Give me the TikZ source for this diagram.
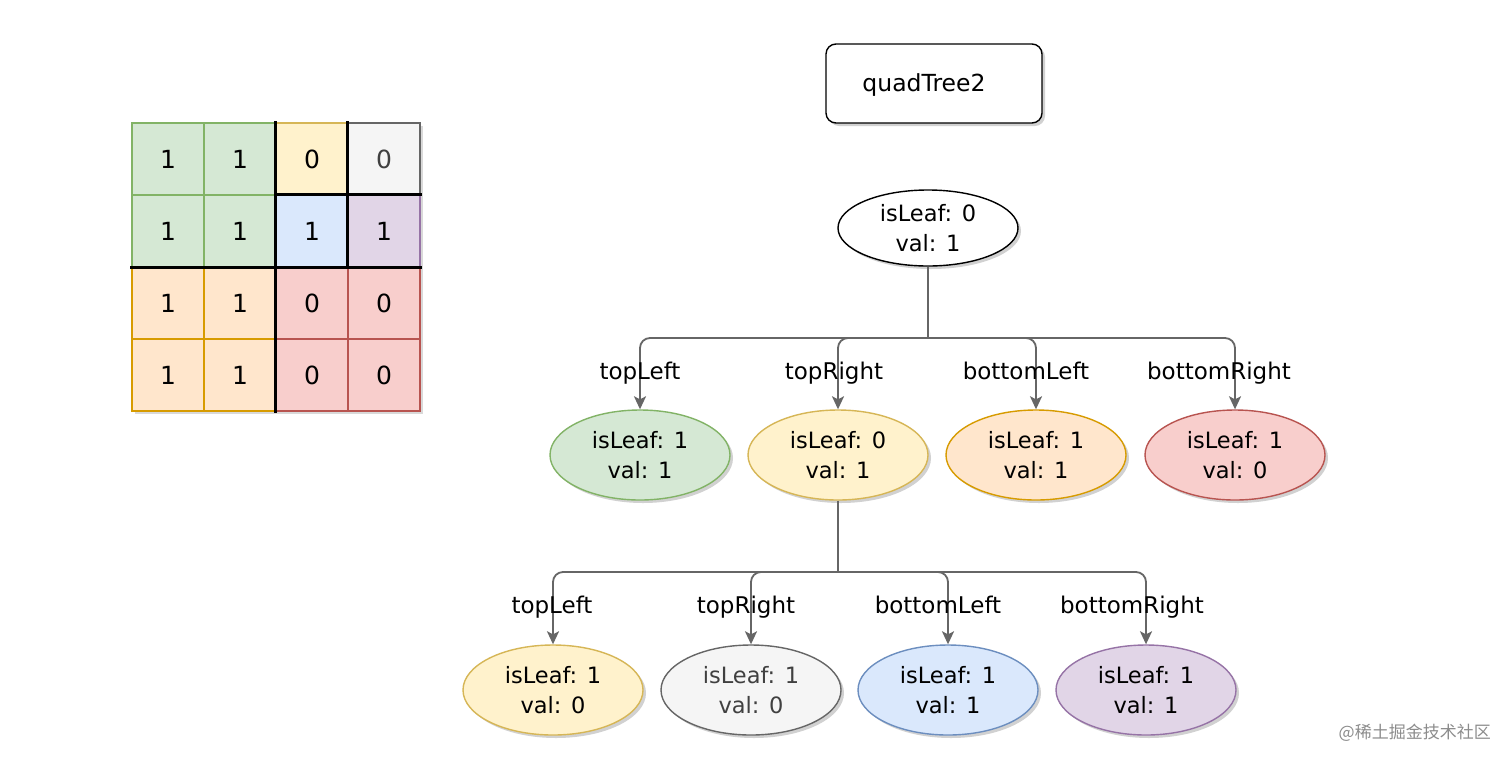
\documentclass[tikz,border=0pt]{standalone}
\usepackage{fontspec}
\setmainfont{DejaVu Sans}
\newfontfamily\cjk{Noto Sans CJK SC}
\usetikzlibrary{shapes.geometric,shadows,arrows.meta}
\definecolor{gF}{HTML}{D5E8D4}\definecolor{gS}{HTML}{82B366}
\definecolor{yF}{HTML}{FFF2CC}\definecolor{yS}{HTML}{D6B656}
\definecolor{wF}{HTML}{F5F5F5}\definecolor{wS}{HTML}{666666}
\definecolor{bF}{HTML}{DAE8FC}\definecolor{bS}{HTML}{6C8EBF}
\definecolor{pF}{HTML}{E1D5E7}\definecolor{pS}{HTML}{9673A6}
\definecolor{oF}{HTML}{FFE6CC}\definecolor{oS}{HTML}{D79B00}
\definecolor{rF}{HTML}{F8CECC}\definecolor{rS}{HTML}{B85450}
\definecolor{edgec}{HTML}{666666}
\tikzset{
  shad/.style={drop shadow={shadow xshift=3pt,shadow yshift=-3pt,opacity=0.18,fill=black}},
  cellbox/.style={draw=#1S,fill=#1F,line width=1.2pt,minimum width=72pt,minimum height=72pt,inner sep=0pt,font=\fontsize{25}{28}\selectfont},
  qnode/.style={ellipse,draw=#1S,fill=#1F,line width=1.4pt,minimum width=180pt,minimum height=90pt,inner sep=0pt,align=center,font=\fontsize{22.5}{30}\selectfont,shad},
  edge/.style={draw=edgec,line width=1.8pt,rounded corners=10pt,-{Stealth[length=13pt,width=12pt,inset=3pt]}},
  plainedge/.style={draw=edgec,line width=1.8pt},
  elabel/.style={font=\fontsize{23}{26}\selectfont,inner sep=0pt,anchor=base},
  thickline/.style={line width=3.2pt,black,line cap=rect},
}
\begin{document}
\begin{tikzpicture}[x=1pt,y=-1pt]
\useasboundingbox (0,0) rectangle (1512,764);
\fill[white] (0,0) rectangle (1512,764);
% grid shadow
\fill[black,opacity=0.15] (135,126) rectangle (423,414);
% grid cells
\node[cellbox=g] (g11) at (168,159) {1};
\node[cellbox=g] (g12) at (240,159) {1};
\node[cellbox=y] (g13) at (312,159) {0};
\node[cellbox=w,text=black!75] (g14) at (384,159) {0};
\node[cellbox=g] (g21) at (168,231) {1};
\node[cellbox=g] (g22) at (240,231) {1};
\node[cellbox=b] (g23) at (312,231) {1};
\node[cellbox=p] (g24) at (384,231) {1};
\node[cellbox=o] (g31) at (168,303) {1};
\node[cellbox=o] (g32) at (240,303) {1};
\node[cellbox=r] (g33) at (312,303) {0};
\node[cellbox=r] (g34) at (384,303) {0};
\node[cellbox=o] (g41) at (168,375) {1};
\node[cellbox=o] (g42) at (240,375) {1};
\node[cellbox=r] (g43) at (312,375) {0};
\node[cellbox=r] (g44) at (384,375) {0};
\draw[thickline] (g13.north west) -- (g43.south west);
\draw[thickline] (g21.south west) -- (g24.south east);
\draw[thickline] (g14.north west) -- (g24.south west);
\draw[thickline] (g23.north west) -- (g24.north east);
% title
\node[draw=black,fill=white,line width=1.4pt,rounded corners=10pt,minimum width=216pt,minimum height=79pt,shad] (title) at (934,83.5) {};
\node[font=\fontsize{23.5}{26}\selectfont] (titletext) at (924,85) {quadTree2};
% root
\node[qnode=w,draw=black,fill=white,minimum height=76pt] (root) at (928,228) {isLeaf: 0\\val: 1};
% level 1
\node[qnode=g] (a1) at (640,455) {isLeaf: 1\\val: 1};
\node[qnode=y] (a2) at (838,455) {isLeaf: 0\\val: 1};
\node[qnode=o] (a3) at (1036,455) {isLeaf: 1\\val: 1};
\node[qnode=r] (a4) at (1235,455) {isLeaf: 1\\val: 0};
% level 2
\node[qnode=y] (b1) at (553,690) {isLeaf: 1\\val: 0};
\node[qnode=w,text=black!75] (b2) at (751,690) {isLeaf: 1\\val: 0};
\node[qnode=b] (b3) at (948,690) {isLeaf: 1\\val: 1};
\node[qnode=p] (b4) at (1146,690) {isLeaf: 1\\val: 1};
% edges level 1
\coordinate (j1) at (928,338);
\draw[plainedge] (root.south) -- (j1);
\draw[edge] (j1) -| (a1.north);
\draw[edge] (j1) -| (a2.north);
\draw[edge] (j1) -| (a3.north);
\draw[edge] (j1) -| (a4.north);
% edges level 2
\coordinate (j2) at (838,572);
\draw[plainedge] (a2.south) -- (j2);
\draw[edge] (j2) -| (b1.north);
\draw[edge] (j2) -| (b2.north);
\draw[edge] (j2) -| (b3.north);
\draw[edge] (j2) -| (b4.north);
% labels
\node[elabel] (l1) at (640,379) {topLeft};
\node[elabel] (l2) at (834,379) {topRight};
\node[elabel] (l3) at (1026,379) {bottomLeft};
\node[elabel] (l4) at (1219,379) {bottomRight};
\node[elabel] (m1) at (552,613) {topLeft};
\node[elabel] (m2) at (746,613) {topRight};
\node[elabel] (m3) at (938,613) {bottomLeft};
\node[elabel] (m4) at (1132,613) {bottomRight};
% watermark
\node[font=\cjk\fontsize{17}{20}\selectfont,text=black!45,anchor=east,inner sep=0pt] (wm) at (1491,733) {@稀土掘金技术社区};
\end{tikzpicture}
\end{document}
